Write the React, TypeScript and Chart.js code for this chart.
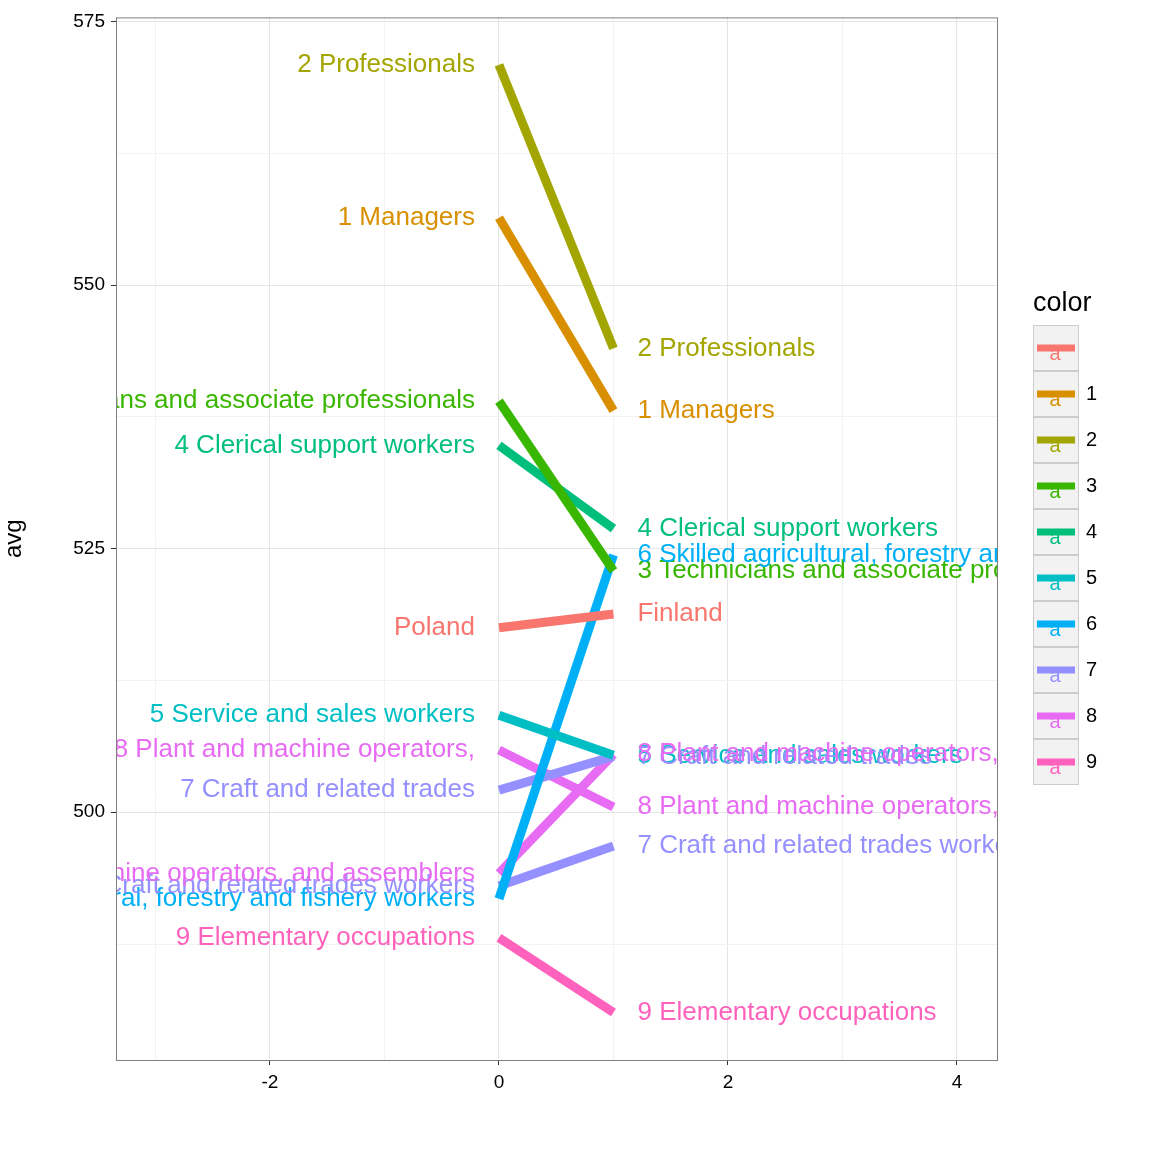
import React, { useEffect, useRef } from "react";
import { Chart, registerables } from "chart.js";

Chart.register(...registerables);

const groups = ["a", "1", "2", "3", "4", "5", "6", "7", "7", "8", "8", "9"];
const leftLabels = [
  "Poland",
  "1 Managers",
  "2 Professionals",
  "3 Technicians and associate professionals",
  "4 Clerical support workers",
  "5 Service and sales workers",
  "6 Skilled agricultural, forestry and fishery workers",
  "7 Craft and related trades",
  "7 Craft and related trades workers",
  "8 Plant and machine operators,",
  "8 Plant and machine operators, and assemblers",
  "9 Elementary occupations",
];
const rightLabels = [
  "Finland",
  "1 Managers",
  "2 Professionals",
  "3 Technicians and associate professionals",
  "4 Clerical support workers",
  "5 Service and sales workers",
  "6 Skilled agricultural, forestry and fishery workers",
  "7 Craft and related trades",
  "7 Craft and related trades workers",
  "8 Plant and machine operators,",
  "8 Plant and machine operators, and assemblers",
  "9 Elementary occupations",
];
const leftValues = [517.5, 556.4, 570.9, 539.0, 534.8, 509.2, 491.8, 502.1, 493.0, 505.9, 494.2, 488.1];
const rightValues = [518.8, 538.1, 544.0, 522.9, 526.9, 505.4, 524.4, 505.3, 496.8, 500.5, 505.5, 481.0];
const legendKeys = ["a", "1", "2", "3", "4", "5", "6", "7", "8", "9"];
const legendLabels = ["", "1", "2", "3", "4", "5", "6", "7", "8", "9"];
const palette = ["#F8766D", "#D89000", "#A3A500", "#39B600", "#00BF7D", "#00BFC4", "#00B0F6", "#9590FF", "#E76BF3", "#FF62BC"];
const xMajor = [-2, 0, 2, 4];
const yMajor = [500, 525, 550, 575];

const FONT = "'Liberation Sans', Arial, sans-serif";
const colorOf = (g: string) => palette[legendKeys.indexOf(g)];

const App: React.FC = () => {
  const canvasRef = useRef<HTMLCanvasElement | null>(null);

  useEffect(() => {
    document.body.style.margin = "0";
    const canvas = canvasRef.current;
    if (!canvas) return;

    const labelPlugin = {
      id: "slopeLabels",
      beforeDraw(chart: any) {
        const { ctx, chartArea: a } = chart;
        ctx.save();
        ctx.fillStyle = "#ffffff";
        ctx.fillRect(0, 0, chart.width, chart.height);
        ctx.restore();
      },
      afterDatasetsDraw(chart: any) {
        const { ctx, chartArea: a, scales } = chart;
        ctx.save();
        ctx.beginPath();
        ctx.rect(a.left, a.top, a.right - a.left, a.bottom - a.top);
        ctx.clip();
        ctx.font = `26px ${FONT}`;
        ctx.textBaseline = "middle";
        groups.forEach((g, i) => {
          ctx.fillStyle = colorOf(g);
          ctx.textAlign = "right";
          ctx.fillText(leftLabels[i], scales.x.getPixelForValue(0) - 24, scales.y.getPixelForValue(leftValues[i]));
          ctx.textAlign = "left";
          ctx.fillText(rightLabels[i], scales.x.getPixelForValue(1) + 24, scales.y.getPixelForValue(rightValues[i]));
        });
        ctx.restore();
        ctx.save();
        ctx.strokeStyle = "#7f7f7f";
        ctx.lineWidth = 1;
        ctx.strokeRect(a.left + 0.5, a.top + 0.5, a.right - a.left, a.bottom - a.top);
        // legend
        ctx.fillStyle = "#000";
        ctx.font = `27px ${FONT}`;
        ctx.textAlign = "left";
        ctx.textBaseline = "middle";
        ctx.fillText("color", 1033, 304);
        legendKeys.forEach((k, i) => {
          const y = 325 + i * 46;
          ctx.fillStyle = "#f2f2f2";
          ctx.fillRect(1033, y, 45, 45);
          ctx.strokeStyle = "#cccccc";
          ctx.strokeRect(1033.5, y + 0.5, 45, 45);
          ctx.strokeStyle = palette[i];
          ctx.lineWidth = 7;
          ctx.beginPath();
          ctx.moveTo(1037, y + 23);
          ctx.lineTo(1075, y + 23);
          ctx.stroke();
          ctx.lineWidth = 1;
          ctx.fillStyle = palette[i];
          ctx.font = `20px ${FONT}`;
          ctx.textAlign = "center";
          ctx.fillText("a", 1055, y + 29);
          ctx.fillStyle = "#000";
          ctx.textAlign = "left";
          ctx.font = `20px ${FONT}`;
          ctx.fillText(legendLabels[i], 1086, y + 23);
        });
        ctx.restore();
      },
    };

    const chart = new Chart(canvas, {
      type: "line",
      data: {
        datasets: groups.map((g, i) => ({
          label: leftLabels[i],
          data: [
            { x: 0, y: leftValues[i] },
            { x: 1, y: rightValues[i] },
          ],
          borderColor: colorOf(g),
          borderWidth: 9,
          borderCapStyle: "butt" as const,
          pointRadius: 0,
          fill: false,
        })),
      },
      options: {
        animation: false,
        responsive: false,
        layout: { padding: { top: 17, right: 155, left: 0, bottom: 0 } },
        plugins: { legend: { display: false }, tooltip: { enabled: false } },
        scales: {
          x: {
            type: "linear",
            min: -3.345,
            max: 4.35,
            afterBuildTicks: (s: any) => {
              s.ticks = [-3, -2, -1, 0, 1, 2, 3, 4].map((v) => ({ value: v }));
            },
            afterFit: (s: any) => {
              s.height = 92;
            },
            border: { display: false },
            grid: {
              color: (c: any) => (xMajor.includes(c.tick?.value) ? "#e5e5e5" : "#f2f2f2"),
              tickColor: (c: any) => (xMajor.includes(c.tick?.value) ? "#333333" : "rgba(0,0,0,0)"),
              tickLength: 5,
              lineWidth: 1,
            },
            ticks: {
              autoSkip: false,
              maxRotation: 0,
              color: "#000",
              font: { family: FONT, size: 19 },
              padding: 6,
              callback: (v: any) => (xMajor.includes(Number(v)) ? String(v) : ""),
            },
          },
          y: {
            type: "linear",
            min: 476.5,
            max: 575.4,
            afterBuildTicks: (s: any) => {
              s.ticks = [487.5, 500, 512.5, 525, 537.5, 550, 562.5, 575].map((v) => ({ value: v }));
            },
            afterFit: (s: any) => {
              s.width = 116;
            },
            border: { display: false },
            title: { display: true, text: "avg", color: "#000", font: { family: FONT, size: 24 }, padding: 0 },
            grid: {
              color: (c: any) => (yMajor.includes(c.tick?.value) ? "#e5e5e5" : "#f2f2f2"),
              tickColor: (c: any) => (yMajor.includes(c.tick?.value) ? "#333333" : "rgba(0,0,0,0)"),
              tickLength: 5,
              lineWidth: 1,
            },
            ticks: {
              autoSkip: false,
              color: "#000",
              font: { family: FONT, size: 19 },
              padding: 6,
              callback: (v: any) => (yMajor.includes(Number(v)) ? String(v) : ""),
            },
          },
        },
      },
      plugins: [labelPlugin],
    } as any);

    return () => chart.destroy();
  }, []);

  return (
    <div style={{ width: 1152, height: 1152 }}>
      <canvas ref={canvasRef} width={1152} height={1152} style={{ width: 1152, height: 1152 }} />
    </div>
  );
};

export default App;
